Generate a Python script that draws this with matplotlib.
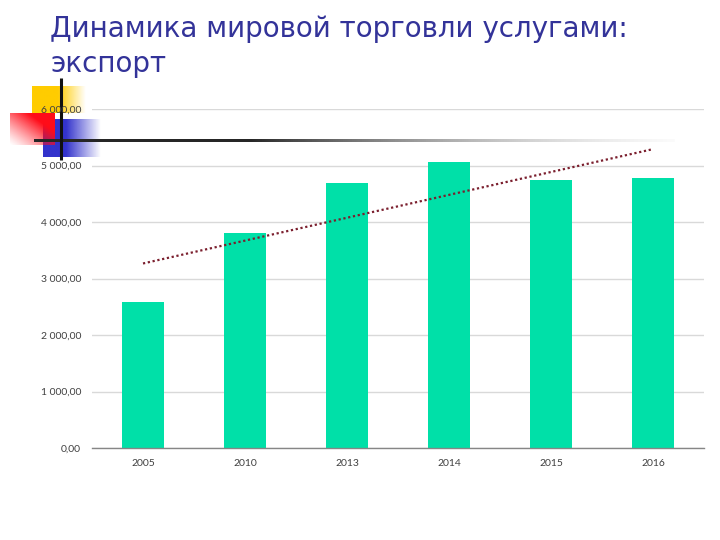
import numpy as np
import matplotlib
matplotlib.use("Agg")
import matplotlib.pyplot as plt

years = ["2005", "2010", "2013", "2014", "2015", "2016"]
exports = [2585, 3805, 4690, 5062, 4745, 4780]
yticks = [0, 1000, 2000, 3000, 4000, 5000, 6000]
ytick_labels = ["0,00", "1 000,00", "2 000,00", "3 000,00", "4 000,00", "5 000,00", "6 000,00"]
title_line1 = "Динамика мировой торговли услугами:"
title_line2 = "экспорт"

fig = plt.figure(figsize=(7.2, 5.4), dpi=100)
fig.patch.set_facecolor("white")

# decoration layer (pixel coordinates)
deco = fig.add_axes([0, 0, 1, 1], zorder=0)
deco.set_xlim(0, 720)
deco.set_ylim(540, 0)
deco.axis("off")

def hgrad(color, x0, x1, fade_start):
    n = 200
    xs = np.linspace(x0, x1, n)
    a = np.clip((x1 - xs) / (x1 - fade_start), 0, 1)
    img = np.zeros((1, n, 4))
    img[..., :3] = matplotlib.colors.to_rgb(color)
    img[..., 3] = a
    return img

# yellow square
deco.imshow(hgrad("#FFCC00", 32, 86, 58), extent=(32, 86, 113, 86), aspect="auto", interpolation="bilinear", zorder=1)
# blue square
deco.imshow(hgrad("#3333CC", 43, 101, 66), extent=(43, 101, 157, 119), aspect="auto", interpolation="bilinear", zorder=2)
# red square (diagonal gradient)
n = 100
gx, gy = np.meshgrid(np.linspace(0, 1, n), np.linspace(0, 1, n))
alpha = np.clip((gx + (1 - gy)) / 1.4, 0, 1) ** 1.2
red = np.zeros((n, n, 4))
red[..., 0] = 1.0
red[..., 1] = 0.05
red[..., 2] = 0.1
red[..., 3] = alpha
deco.imshow(red, extent=(10, 55, 145, 113), aspect="auto", interpolation="bilinear", zorder=3)
# horizontal line with gradient
m = 400
xs = np.linspace(34, 675, m)
line = np.zeros((1, m, 4))
t = np.clip((xs - 250) / (675 - 250), 0, 1)
line[..., 0] = 0.15 + 0.8 * t
line[..., 1] = 0.15 + 0.8 * t
line[..., 2] = 0.15 + 0.8 * t
line[..., 3] = 1.0 - 0.7 * t
deco.imshow(line, extent=(34, 675, 142.2, 139.8), aspect="auto", interpolation="bilinear", zorder=4)
# vertical line
deco.plot([61, 61], [78, 160], color="#111111", lw=2.2, solid_capstyle="butt", zorder=5)

# title
fig.text(50 / 720, 1 - 37 / 540, title_line1, fontsize=20, color="#333399",
         family="DejaVu Sans", va="baseline", ha="left")
fig.text(50 / 720, 1 - 72 / 540, title_line2, fontsize=20, color="#333399",
         family="DejaVu Sans", va="baseline", ha="left")

# chart
ax = fig.add_axes([92 / 720, 1 - 448 / 540, 612 / 720, (448 - 109) / 540], zorder=1)
ax.patch.set_alpha(0)
x = np.arange(len(years))
ax.bar(x, exports, width=0.41, color="#00E0A8", zorder=2)
coef = np.polyfit(x, exports, 1)
ax.plot(x, np.polyval(coef, x), linestyle=(0, (1, 1.2)), color="#7B1F2E", lw=1.6, zorder=3)

ax.set_xlim(-0.5, len(years) - 0.5)
ax.set_ylim(0, 6000)
ax.set_yticks(yticks)
ax.set_yticklabels(ytick_labels)
ax.set_xticks(x)
ax.set_xticklabels(years)
for lab in ax.get_xticklabels() + ax.get_yticklabels():
    lab.set_family("Lato")
ax.tick_params(axis="both", length=0, labelsize=7.5, labelcolor="#404040")
ax.tick_params(axis="y", pad=8)
ax.tick_params(axis="x", pad=8)
ax.grid(axis="y", color="#D9D9D9", lw=1, zorder=0)
for s in ["top", "right", "left"]:
    ax.spines[s].set_visible(False)
ax.spines["bottom"].set_color("#868686")
ax.spines["bottom"].set_linewidth(1)

fig.savefig("out.png", dpi=100)
